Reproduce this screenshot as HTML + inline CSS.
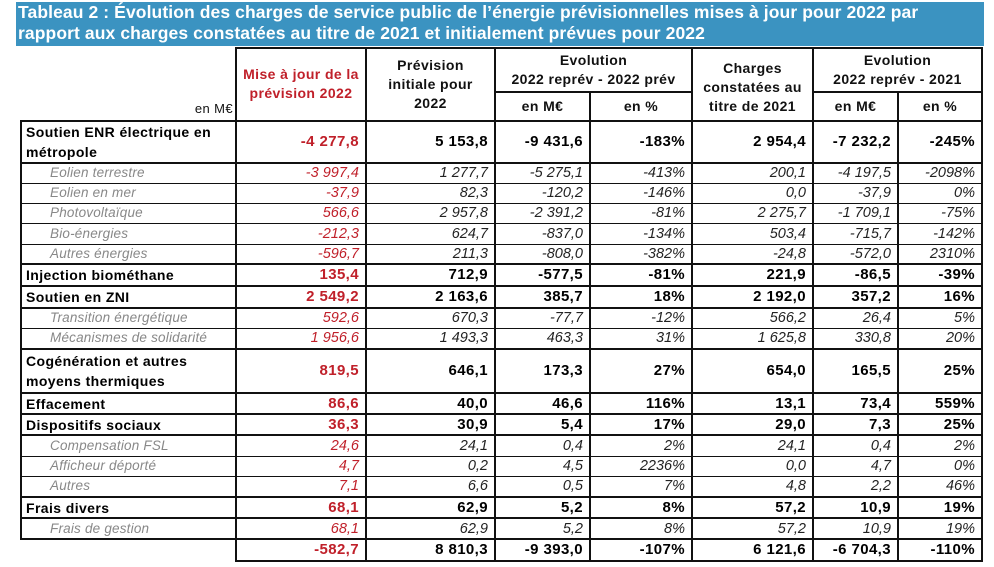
<!DOCTYPE html>
<html><head><meta charset="utf-8"><style>
body{margin:0;width:994px;height:567px;background:#fff;position:relative;overflow:hidden;font-family:"Liberation Sans",Arial,sans-serif}
.title{position:absolute;left:16px;top:2px;width:968px;height:44px;background:#3b93c1;color:#fff;font-weight:bold;font-size:17.5px;line-height:21px;padding-left:2px;box-sizing:border-box;letter-spacing:0.1px}
table{position:absolute;left:20px;top:47px;border-collapse:collapse;table-layout:fixed}
td{border:2px solid #111;padding:0 6px 0 4px;font-size:13px;text-align:right;white-space:nowrap;overflow:hidden;letter-spacing:0.4px;line-height:16px}
.h td{text-align:center;font-weight:bold;font-size:14px;line-height:19px;color:#111;padding:0 2px}
.b td{font-weight:bold;font-size:15px}
.b td.l{text-align:left;white-space:normal;line-height:20px;font-size:14px}
.b1 td.l{line-height:16px}
.s td{font-style:italic;color:#222;font-size:14.5px;border-width:1.5px 2px;letter-spacing:0}
.s td.l{text-align:left;color:#888;padding-left:28px;font-size:13.5px;letter-spacing:0.2px}
.r{color:#c0202a !important}
.nb{border:none !important}
</style></head><body>
<div class="title">Tableau 2 : Évolution des charges de service public de l’énergie prévisionnelles mises à jour pour 2022 par<br>rapport aux charges constatées au titre de 2021 et initialement prévues pour 2022</div>
<table>
<colgroup><col style="width:215px"><col style="width:130px"><col style="width:129px"><col style="width:95px"><col style="width:102px"><col style="width:121px"><col style="width:85px"><col style="width:84px"></colgroup>
<tr class="h" style="height:44px"><td rowspan="2" style="border-top:none;border-left:none;text-align:right;vertical-align:bottom;font-weight:normal;font-size:13px;padding-bottom:2px">en M€</td><td rowspan="2" class="r" style="vertical-align:top;padding-top:16px">Mise à jour de la<br>prévision 2022</td><td rowspan="2">Prévision<br>initiale pour<br>2022</td><td colspan="2">Evolution<br>2022 reprév - 2022 prév</td><td rowspan="2" style="padding-top:6px">Charges<br>constatées au<br>titre de 2021</td><td colspan="2">Evolution<br>2022 reprév - 2021</td></tr>
<tr class="h" style="height:29px"><td>en M€</td><td>en %</td><td>en M€</td><td>en %</td></tr>
<tr class="b" style="height:42px"><td class="l">Soutien ENR électrique en<br>métropole</td><td class="r">-4 277,8</td><td>5 153,8</td><td>-9 431,6</td><td>-183%</td><td>2 954,4</td><td>-7 232,2</td><td>-245%</td></tr>
<tr class="s" style="height:20px"><td class="l">Eolien terrestre</td><td class="r">-3 997,4</td><td>1 277,7</td><td>-5 275,1</td><td>-413%</td><td>200,1</td><td>-4 197,5</td><td>-2098%</td></tr>
<tr class="s" style="height:20px"><td class="l">Eolien en mer</td><td class="r">-37,9</td><td>82,3</td><td>-120,2</td><td>-146%</td><td>0,0</td><td>-37,9</td><td>0%</td></tr>
<tr class="s" style="height:20px"><td class="l">Photovoltaïque</td><td class="r">566,6</td><td>2 957,8</td><td>-2 391,2</td><td>-81%</td><td>2 275,7</td><td>-1 709,1</td><td>-75%</td></tr>
<tr class="s" style="height:21px"><td class="l">Bio-énergies</td><td class="r">-212,3</td><td>624,7</td><td>-837,0</td><td>-134%</td><td>503,4</td><td>-715,7</td><td>-142%</td></tr>
<tr class="s" style="height:20px"><td class="l">Autres énergies</td><td class="r">-596,7</td><td>211,3</td><td>-808,0</td><td>-382%</td><td>-24,8</td><td>-572,0</td><td>2310%</td></tr>
<tr class="b b1" style="height:22px"><td class="l">Injection biométhane</td><td class="r">135,4</td><td>712,9</td><td>-577,5</td><td>-81%</td><td>221,9</td><td>-86,5</td><td>-39%</td></tr>
<tr class="b b1" style="height:22px"><td class="l">Soutien en ZNI</td><td class="r">2 549,2</td><td>2 163,6</td><td>385,7</td><td>18%</td><td>2 192,0</td><td>357,2</td><td>16%</td></tr>
<tr class="s" style="height:20px"><td class="l">Transition énergétique</td><td class="r">592,6</td><td>670,3</td><td>-77,7</td><td>-12%</td><td>566,2</td><td>26,4</td><td>5%</td></tr>
<tr class="s" style="height:21px"><td class="l">Mécanismes de solidarité</td><td class="r">1 956,6</td><td>1 493,3</td><td>463,3</td><td>31%</td><td>1 625,8</td><td>330,8</td><td>20%</td></tr>
<tr class="b" style="height:44px"><td class="l">Cogénération et autres<br>moyens thermiques</td><td class="r">819,5</td><td>646,1</td><td>173,3</td><td>27%</td><td>654,0</td><td>165,5</td><td>25%</td></tr>
<tr class="b b1" style="height:21px"><td class="l">Effacement</td><td class="r">86,6</td><td>40,0</td><td>46,6</td><td>116%</td><td>13,1</td><td>73,4</td><td>559%</td></tr>
<tr class="b b1" style="height:21px"><td class="l">Dispositifs sociaux</td><td class="r">36,3</td><td>30,9</td><td>5,4</td><td>17%</td><td>29,0</td><td>7,3</td><td>25%</td></tr>
<tr class="s" style="height:21px"><td class="l">Compensation FSL</td><td class="r">24,6</td><td>24,1</td><td>0,4</td><td>2%</td><td>24,1</td><td>0,4</td><td>2%</td></tr>
<tr class="s" style="height:20px"><td class="l">Afficheur déporté</td><td class="r">4,7</td><td>0,2</td><td>4,5</td><td>2236%</td><td>0,0</td><td>4,7</td><td>0%</td></tr>
<tr class="s" style="height:21px"><td class="l">Autres</td><td class="r">7,1</td><td>6,6</td><td>0,5</td><td>7%</td><td>4,8</td><td>2,2</td><td>46%</td></tr>
<tr class="b b1" style="height:21px"><td class="l">Frais divers</td><td class="r">68,1</td><td>62,9</td><td>5,2</td><td>8%</td><td>57,2</td><td>10,9</td><td>19%</td></tr>
<tr class="s" style="height:21px"><td class="l">Frais de gestion</td><td class="r">68,1</td><td>62,9</td><td>5,2</td><td>8%</td><td>57,2</td><td>10,9</td><td>19%</td></tr>
<tr class="b b1" style="height:22px"><td class="nb" style="border-top:2px solid #111 !important"></td><td class="r">-582,7</td><td>8 810,3</td><td>-9 393,0</td><td>-107%</td><td>6 121,6</td><td>-6 704,3</td><td>-110%</td></tr>
</table>
</body></html>
